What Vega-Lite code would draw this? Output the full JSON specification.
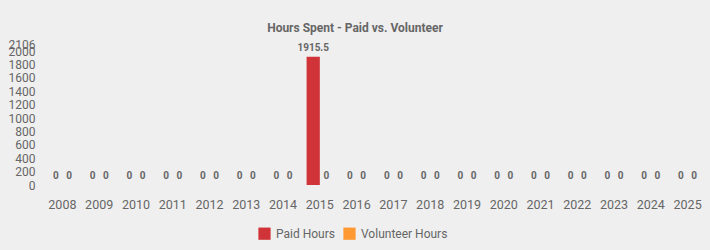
{
  "$schema": "https://vega.github.io/schema/vega-lite/v6.json",
  "autosize": {"type": "none"},
  "width": 662,
  "height": 141,
  "padding": {"left": 44, "top": 44, "right": 4, "bottom": 65},
  "background": "#efefef",
  "title": {"text": "Hours Spent - Paid vs. Volunteer", "fontSize": 12, "font": "Roboto", "fontWeight": "bold", "color": "#666666", "offset": 11, "dx": -20, "dy": 8},
  "config": {
    "view": {"stroke": null},
    "font": "Roboto"
  },
  "data": {"values": [
    {"year": "2008", "type": "Paid Hours", "hours": 0},
    {"year": "2008", "type": "Volunteer Hours", "hours": 0},
    {"year": "2009", "type": "Paid Hours", "hours": 0},
    {"year": "2009", "type": "Volunteer Hours", "hours": 0},
    {"year": "2010", "type": "Paid Hours", "hours": 0},
    {"year": "2010", "type": "Volunteer Hours", "hours": 0},
    {"year": "2011", "type": "Paid Hours", "hours": 0},
    {"year": "2011", "type": "Volunteer Hours", "hours": 0},
    {"year": "2012", "type": "Paid Hours", "hours": 0},
    {"year": "2012", "type": "Volunteer Hours", "hours": 0},
    {"year": "2013", "type": "Paid Hours", "hours": 0},
    {"year": "2013", "type": "Volunteer Hours", "hours": 0},
    {"year": "2014", "type": "Paid Hours", "hours": 0},
    {"year": "2014", "type": "Volunteer Hours", "hours": 0},
    {"year": "2015", "type": "Paid Hours", "hours": 1915.5},
    {"year": "2015", "type": "Volunteer Hours", "hours": 0},
    {"year": "2016", "type": "Paid Hours", "hours": 0},
    {"year": "2016", "type": "Volunteer Hours", "hours": 0},
    {"year": "2017", "type": "Paid Hours", "hours": 0},
    {"year": "2017", "type": "Volunteer Hours", "hours": 0},
    {"year": "2018", "type": "Paid Hours", "hours": 0},
    {"year": "2018", "type": "Volunteer Hours", "hours": 0},
    {"year": "2019", "type": "Paid Hours", "hours": 0},
    {"year": "2019", "type": "Volunteer Hours", "hours": 0},
    {"year": "2020", "type": "Paid Hours", "hours": 0},
    {"year": "2020", "type": "Volunteer Hours", "hours": 0},
    {"year": "2021", "type": "Paid Hours", "hours": 0},
    {"year": "2021", "type": "Volunteer Hours", "hours": 0},
    {"year": "2022", "type": "Paid Hours", "hours": 0},
    {"year": "2022", "type": "Volunteer Hours", "hours": 0},
    {"year": "2023", "type": "Paid Hours", "hours": 0},
    {"year": "2023", "type": "Volunteer Hours", "hours": 0},
    {"year": "2024", "type": "Paid Hours", "hours": 0},
    {"year": "2024", "type": "Volunteer Hours", "hours": 0},
    {"year": "2025", "type": "Paid Hours", "hours": 0},
    {"year": "2025", "type": "Volunteer Hours", "hours": 0}
  ]},
  "encoding": {
    "x": {"field": "year", "type": "nominal", "title": null,
      "scale": {"paddingInner": 0.28, "paddingOuter": 0.14},
      "axis": {"labelAngle": 0, "domain": false, "ticks": false, "labelPadding": 13, "labelFontSize": 12.5, "labelColor": "#666666", "labelFont": "Roboto"}},
    "xOffset": {"field": "type", "type": "nominal", "scale": {"paddingInner": 0}},
    "y": {"field": "hours", "type": "quantitative", "title": null,
      "scale": {"domain": [0, 2106], "nice": false},
      "axis": {"values": [0, 200, 400, 600, 800, 1000, 1200, 1400, 1600, 1800, 2000, 2106], "format": "d", "labelOverlap": false, "grid": false, "domain": false, "ticks": false, "labelPadding": 9, "labelFontSize": 12, "labelColor": "#666666", "labelFont": "Roboto"}}
  },
  "layer": [
    {
      "mark": {"type": "bar"},
      "encoding": {
        "color": {"field": "type", "type": "nominal", "title": null,
          "scale": {"domain": ["Paid Hours", "Volunteer Hours"], "range": ["#d13438", "#ff9a33"]},
          "legend": {"orient": "none", "legendX": 214, "legendY": 183, "direction": "horizontal", "symbolType": "square", "symbolSize": 150, "symbolStrokeWidth": 0, "labelFontSize": 12, "labelColor": "#666666", "labelFont": "Roboto", "columnPadding": 8, "labelOffset": 5}}
      }
    },
    {
      "mark": {"type": "text", "baseline": "bottom", "dy": -4, "fontSize": 10, "fontWeight": "bold", "color": "#666666", "font": "Roboto"},
      "encoding": {"text": {"field": "hours", "type": "quantitative"}}
    }
  ]
}
